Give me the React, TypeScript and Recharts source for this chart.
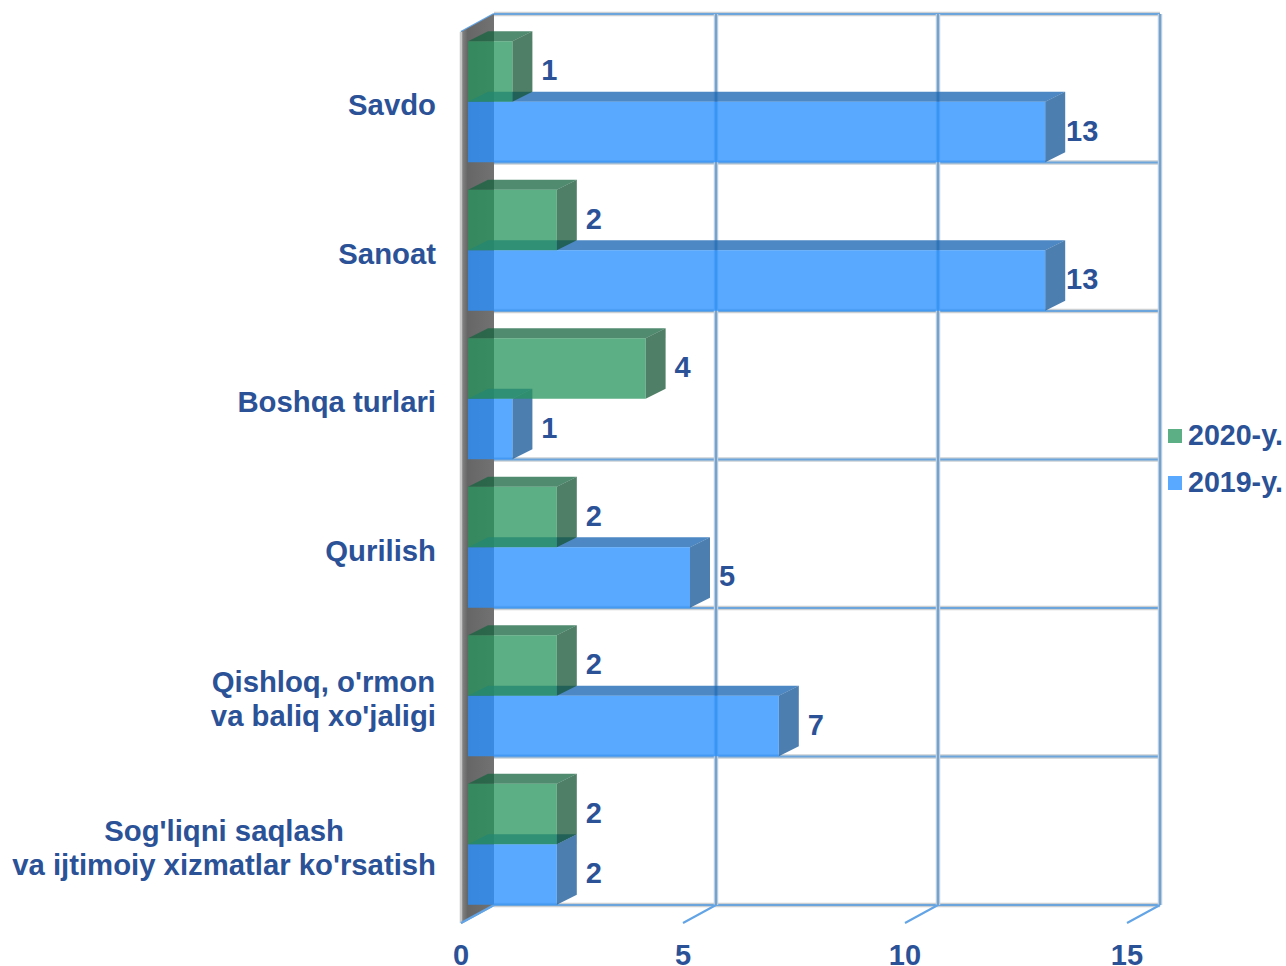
import React from "react";
import { BarChart, Bar, XAxis, YAxis, CartesianGrid, Legend, LabelList } from "recharts";

const categories = ["Savdo", "Sanoat", "Boshqa turlari", "Qurilish", "Qishloq, o'rmon\nva baliq xo'jaligi", "Sog'liqni saqlash\nva ijtimoiy xizmatlar ko'rsatish"];
const values2020 = [1, 2, 4, 2, 2, 2];
const values2019 = [13, 13, 1, 5, 7, 2];
const xTicks = [0, 5, 10, 15];
const rows = categories.map((name, i) => ({ name, y2020: values2020[i], y2019: values2019[i] }));

const FONT = "'Liberation Sans', Arial, sans-serif";
const TEXT = "#2B5297";
const GRID = "#6BA5DC";
const SHADOW = "#CDD0D3";
const BACK_X = 26;
const BACK_Y = -13.75;
const FRONT_X = -7;
const BAR_DX = 20;
const BAR_DY = -10;
const BAR_H = 60.5;

const faces: Record<string, { front: string; top: string; side: string; a: number }> = {
  y2020: { front: "#25935B", top: "#156440", side: "#145433", a: 0.75 },
  y2019: { front: "#2991FF", top: "#1B67B3", side: "#1A5A9A", a: 0.78 },
};
const swatches: Record<string, string> = { y2020: "#5CAE84", y2019: "#58A9FF" };

function measure(s: string) {
  const c = document.createElement("canvas").getContext("2d")!;
  c.font = `bold 29.3px ${FONT}`;
  return c.measureText(s).width;
}

function Bar3D(props: any) {
  const { x, y, width, height, dataKey } = props;
  const f = faces[dataKey];
  const top = `${x},${y} ${x + BAR_DX},${y + BAR_DY} ${x + width + BAR_DX},${y + BAR_DY} ${x + width},${y}`;
  const side = `${x + width},${y} ${x + width + BAR_DX},${y + BAR_DY} ${x + width + BAR_DX},${y + height + BAR_DY} ${x + width},${y + height}`;
  return (
    <g>
      <polygon points={top} fill={f.top} fillOpacity={f.a} />
      <polygon points={side} fill={f.side} fillOpacity={f.a} />
      <rect x={x} y={y} width={width} height={height} fill={f.front} fillOpacity={f.a} />
    </g>
  );
}

function ValueLabel(props: any) {
  const { x, y, width, height, value } = props;
  return (
    <text x={x + width + 37} y={y + height / 2 - 1.5} textAnchor="middle" dominantBaseline="central" fontFamily={FONT} fontWeight="bold" fontSize={29} fill={TEXT}>
      {value}
    </text>
  );
}

function CategoryTick(props: any) {
  const { x, y, payload } = props;
  const lines: string[] = String(payload.value).split("\n");
  const block = Math.max(...lines.map(measure));
  const start = y + 2.5 - ((lines.length - 1) * 34) / 2;
  return (
    <g>
      {lines.map((l, i) => (
        <text key={i} x={x - block / 2} y={start + i * 34} textAnchor="middle" dominantBaseline="central" fontFamily={FONT} fontWeight="bold" fontSize={29.3} fill={TEXT}>
          {l}
        </text>
      ))}
    </g>
  );
}

function ValueTick(props: any) {
  const { x, payload } = props;
  return (
    <text x={x + FRONT_X} y={955} textAnchor="middle" dominantBaseline="central" fontFamily={FONT} fontWeight="bold" fontSize={29} fill={TEXT}>
      {payload.value}
    </text>
  );
}

function Line2(p: { x1: number; y1: number; x2: number; y2: number }) {
  return (
    <g>
      <line {...p} stroke={SHADOW} strokeWidth={4.5} />
      <line {...p} stroke={GRID} strokeWidth={2.2} />
    </g>
  );
}

function Slant(p: { x1: number; y1: number; x2: number; y2: number }) {
  return <line {...p} stroke="#62A4E6" strokeWidth={2} />;
}

function HLine(props: any) {
  const { x1, x2, y1 } = props;
  const y = y1 + BACK_Y;
  const bx = x1 + BACK_X;
  return (
    <g key={props.key}>
      <Line2 x1={bx} y1={y} x2={x2 + BACK_X} y2={y} />
      <Slant x1={bx} y1={y} x2={x1 + FRONT_X} y2={y + 18} />
    </g>
  );
}

function VLine(props: any) {
  const { x1, y1, y2, index } = props;
  const bx = x1 + BACK_X;
  const top = y1 + BACK_Y;
  const bottom = y2 + BACK_Y;
  const fx = x1 + FRONT_X;
  return (
    <g key={props.key}>
      {index === 0 ? (
        <polygon points={`${fx},${top + 18} ${bx},${top} ${bx},${bottom} ${fx},${bottom + 18}`} fill="url(#wall)" />
      ) : null}
      {index === 0 ? <line x1={fx} y1={top + 18} x2={fx} y2={bottom + 18} stroke="#C8C8C8" strokeWidth={2.5} /> : null}
      {index === 0 ? null : <Line2 x1={bx} y1={top} x2={bx} y2={bottom} />}
      <Slant x1={bx} y1={bottom} x2={fx} y2={bottom + 18} />
    </g>
  );
}

function LegendBox(props: any) {
  const items = [...(props.payload || [])].reverse();
  return (
    <div style={{ fontFamily: FONT, fontWeight: "bold", fontSize: 28.6, color: TEXT, lineHeight: "47px", whiteSpace: "nowrap" }}>
      {items.map((it: any) => (
        <div key={it.value} style={{ display: "flex", alignItems: "center", height: 47 }}>
          <span style={{ width: 14, height: 14, background: swatches[it.dataKey], marginRight: 6, display: "inline-block" }} />
          {it.value}
        </div>
      ))}
    </div>
  );
}

export default function App() {
  return (
    <div style={{ position: "absolute", left: 0, top: 0, width: 1286, height: 966 }}>
      <BarChart
        width={1286}
        height={966}
        data={rows}
        layout="vertical"
        margin={{ top: 27.75, right: 34, bottom: 0, left: 0 }}
        barSize={BAR_H}
        barGap={-2 * BAR_H}
      >
        <defs>
          <linearGradient id="wall" x1="0" y1="0" x2="1" y2="0">
            <stop offset="0" stopColor="#8A8A8A" />
            <stop offset="0.2" stopColor="#666666" />
            <stop offset="1" stopColor="#727272" />
          </linearGradient>
        </defs>
        <CartesianGrid
          horizontalCoordinatesGenerator={({ offset }: any) => categories.concat("").map((_, i) => offset.top + (i * offset.height) / categories.length)}
          horizontal={HLine}
          vertical={VLine}
        />
        <XAxis type="number" domain={[0, 15]} ticks={xTicks} height={47.25} axisLine={false} tickLine={false} tick={ValueTick} interval={0} />
        <YAxis type="category" dataKey="name" width={468} axisLine={false} tickLine={false} tickSize={0} tickMargin={32} tick={CategoryTick} interval={0} />
        <Legend layout="vertical" align="right" verticalAlign="top" content={LegendBox} wrapperStyle={{ left: 1168, top: 412, width: 118 }} />
        <Bar dataKey="y2019" name="2019-y." shape={Bar3D} isAnimationActive={false}>
          <LabelList dataKey="y2019" content={ValueLabel} />
        </Bar>
        <Bar dataKey="y2020" name="2020-y." shape={Bar3D} isAnimationActive={false}>
          <LabelList dataKey="y2020" content={ValueLabel} />
        </Bar>
      </BarChart>
    </div>
  );
}
